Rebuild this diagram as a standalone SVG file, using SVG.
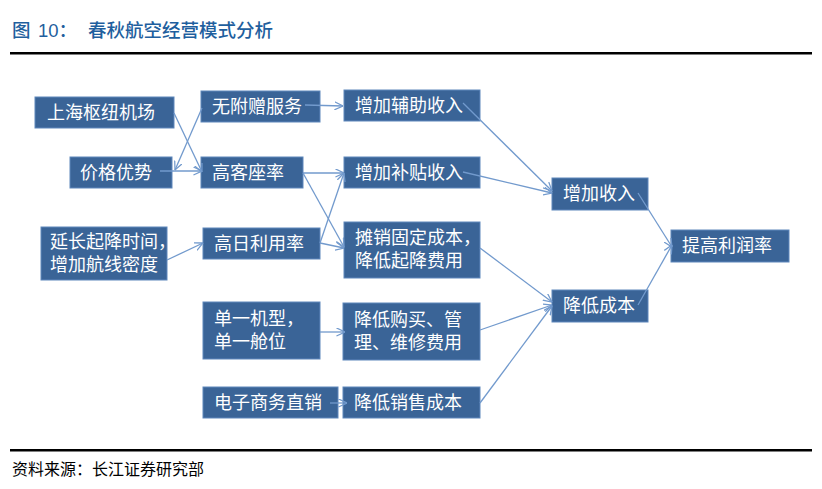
<svg xmlns="http://www.w3.org/2000/svg" width="822" height="489" viewBox="0 0 822 489">
<style>
.box{fill:#3A6497;stroke:#5E87BC;stroke-width:1}
.t{font-family:"Liberation Sans","Noto Sans CJK SC",sans-serif;font-size:18px;fill:#FFFFFF}
.c{fill:none;stroke:#729ACD;stroke-width:1.3;marker-end:url(#ah)}
.title{font-family:"Liberation Sans","Noto Sans CJK SC",sans-serif;font-size:18.5px;fill:#1F5F9E;font-weight:500}
.foot{font-family:"Liberation Sans","Noto Sans CJK SC",sans-serif;font-size:16px;fill:#000000}
</style>
<defs>
<marker id="ah" viewBox="0 0 10 10" refX="9.5" refY="5" markerWidth="9" markerHeight="9" markerUnits="userSpaceOnUse" orient="auto">
<path d="M0,0.5 L9.5,5 L0,9.5" fill="none" stroke="#729ACD" stroke-width="1.4"/>
</marker>
</defs>
<rect width="822" height="489" fill="#FFFFFF"/>
<g id="header">
<text class="title" x="12" y="37">图</text>
<text class="title" x="38" y="37">10：</text>
<text class="title" x="88" y="37">春秋航空经营模式分析</text>
<rect x="10" y="52" width="802" height="2.5" fill="#000"/>
</g>
<g id="n1"><rect class="box" x="35" y="97" width="139" height="31"/><text class="t" x="47" y="119">上海枢纽机场</text></g>
<g id="n2"><rect class="box" x="70" y="157" width="102" height="31"/><text class="t" x="80" y="179">价格优势</text></g>
<g id="n3"><rect class="box" x="41" y="227" width="126" height="53"/><text class="t" x="50" y="248">延长起降时间，</text><text class="t" x="50" y="271">增加航线密度</text></g>
<g id="n4"><rect class="box" x="201" y="91" width="119" height="31"/><text class="t" x="212" y="113">无附赠服务</text></g>
<g id="n5"><rect class="box" x="201" y="157" width="102" height="31"/><text class="t" x="212" y="179">高客座率</text></g>
<g id="n6"><rect class="box" x="203" y="228" width="117" height="31"/><text class="t" x="214" y="250">高日利用率</text></g>
<g id="n7"><rect class="box" x="203" y="302" width="117" height="57"/><text class="t" x="214" y="325">单一机型，</text><text class="t" x="214" y="348">单一舱位</text></g>
<g id="n8"><rect class="box" x="203" y="387" width="135" height="31"/><text class="t" x="214" y="409">电子商务直销</text></g>
<g id="n9"><rect class="box" x="344" y="90" width="136" height="31"/><text class="t" x="355" y="112">增加辅助收入</text></g>
<g id="n10"><rect class="box" x="344" y="157" width="136" height="31"/><text class="t" x="355" y="179">增加补贴收入</text></g>
<g id="n11"><rect class="box" x="344" y="222" width="136" height="56"/><text class="t" x="355" y="244">摊销固定成本，</text><text class="t" x="355" y="267">降低起降费用</text></g>
<g id="n12"><rect class="box" x="343" y="303" width="137" height="57"/><text class="t" x="354" y="326">降低购买、管</text><text class="t" x="354" y="349">理、维修费用</text></g>
<g id="n13"><rect class="box" x="343" y="387" width="137" height="31"/><text class="t" x="354" y="409">降低销售成本</text></g>
<g id="n14"><rect class="box" x="552" y="178" width="96" height="32"/><text class="t" x="563" y="200">增加收入</text></g>
<g id="n15"><rect class="box" x="552" y="290" width="96" height="32"/><text class="t" x="563" y="312">降低成本</text></g>
<g id="n16"><rect class="box" x="671" y="230" width="118" height="32"/><text class="t" x="682" y="252">提高利润率</text></g>
<g id="connectors">
<path class="c" d="M174,113 L202,172"/>
<path class="c" d="M202,108 L175,170"/>
<path class="c" d="M160,171 L202,171"/>
<path class="c" d="M305,105 L343,106"/>
<path class="c" d="M303,173 L344,173"/>
<path class="c" d="M303,173 L344,247"/>
<path class="c" d="M320,243 L344,173"/>
<path class="c" d="M320,243 L344,248"/>
<path class="c" d="M167,260 L203,243"/>
<path class="c" d="M463,103 L552,191"/>
<path class="c" d="M463,172 L552,193"/>
<path class="c" d="M480,248 L552,302"/>
<path class="c" d="M480,330 L552,305"/>
<path class="c" d="M480,403 L552,306"/>
<path class="c" d="M638,193 L672,247"/>
<path class="c" d="M638,305 L672,245"/>
<path class="c" d="M320,332 L345,332"/>
<path class="c" d="M330,403 L347,403"/>
</g>
<g id="footer">
<rect x="10" y="449" width="802" height="2.5" fill="#000"/>
<text class="foot" x="12" y="475">资料来源：长江证券研究部</text>
</g>
</svg>
